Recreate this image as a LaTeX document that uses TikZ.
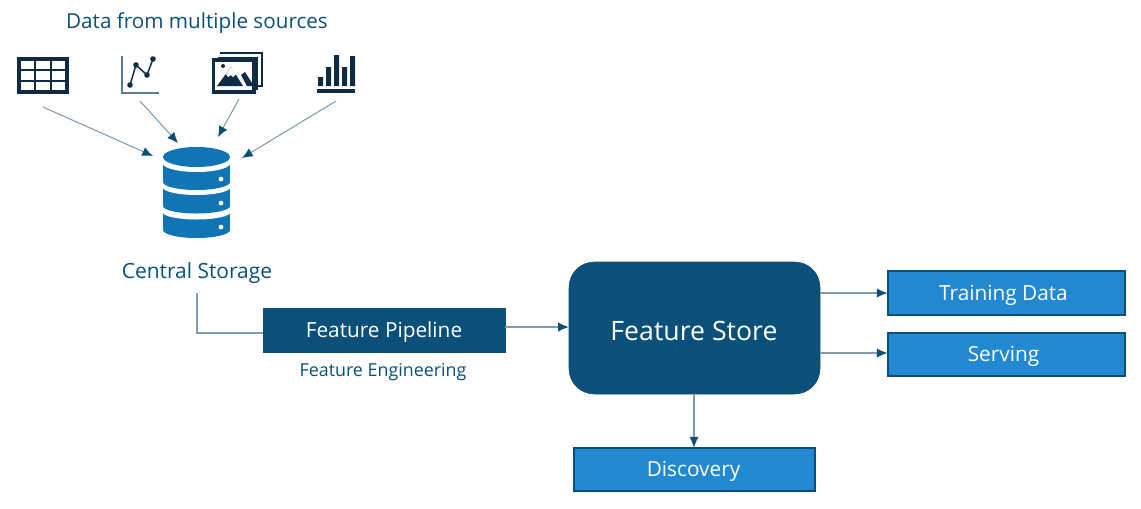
\documentclass[tikz,border=0pt]{standalone}
\usepackage{fontspec}
\setmainfont{Open Sans}
\usetikzlibrary{arrows.meta}
\definecolor{navy}{HTML}{0B5078}
\definecolor{ink}{HTML}{0F2B45}
\definecolor{mid}{HTML}{2288D2}
\definecolor{cyl}{HTML}{0F75B5}
\definecolor{wire}{HTML}{7F9DB2}
\tikzset{
 x=0.75pt,y=-0.75pt,
 flow/.style={draw=wire,line width=0.8pt,-{Latex[length=8pt,width=7pt,color=navy]}},
 plain/.style={draw=wire,line width=0.8pt},
 lightbox/.style={draw=navy,line width=0.8pt,fill=mid,inner sep=0},
 darkbox/.style={draw=navy,fill=navy,inner sep=0},
 boxtext/.style={text=white,inner sep=0,font=\fontsize{15.6}{18}\selectfont},
 caption/.style={text=navy,inner sep=0,font=\fontsize{13.4}{16}\selectfont},
}
\begin{document}
\begin{tikzpicture}
\useasboundingbox (0,0) rectangle (1141,508);
\fill[white] (0,0) rectangle (1141,508);
\node[caption,font=\fontsize{15.5}{18}\selectfont] (title) at (197,23) {Data from multiple sources};
% table icon
\draw[ink,line width=2.6pt] (19,59) rectangle (67,92);
\draw[ink,line width=2.1pt] (19,70) -- (67,70) (19,81) -- (67,81) (35,59) -- (35,92) (51,59) -- (51,92);
% line chart icon
\draw[wire!70!ink,line width=1pt] (122,56) -- (122,93) -- (159,93);
\draw[ink,line width=1.1pt] (130,85) -- (136,65) -- (147,75) -- (153,59);
\foreach \p in {(130,85),(136,65),(147,75),(153,59)} \fill[ink] \p circle[radius=2.8];
% images icon
\draw[ink,line width=1.7pt] (220,53) -- (262,53) -- (262,86) -- (258,86);
\draw[ink,line width=1.7pt] (218,58) -- (257,58) -- (257,90);
\draw[ink,line width=2.3pt,fill=white] (213.5,60) rectangle (254,92);
\fill[ink] (217,86) -- (231,67) -- (243,86) -- cycle;
\fill[ink] (241,75) -- (245,72) -- (252,83) -- (252,86) -- (247,86) -- cycle;
\fill[ink] (223,66) circle[radius=2];
\fill[white] (226,74) -- (231,67) -- (236,74) -- (233,77) -- (231,75) -- (228,77) -- cycle;
% bars icon
\fill[ink] (318,77) rectangle (323,86) (326,67) rectangle (331,86) (334,55) rectangle (339,86) (342,67) rectangle (347,86) (350,56) rectangle (355,86);
\fill[ink] (317,89) rectangle (355,93);
% cylinder, painted from the bottom band upwards
\fill[cyl] (163,212) rectangle (230,230);
\fill[cyl] (196.5,230) ellipse[x radius=33.5,y radius=8];
\fill[white] (196.5,212) ellipse[x radius=34,y radius=7.5];
\fill[cyl] (163,187) rectangle (230,206);
\fill[cyl] (196.5,206) ellipse[x radius=33.5,y radius=7.5];
\fill[white] (196.5,187) ellipse[x radius=34,y radius=8];
\fill[cyl] (163,163) rectangle (230,182);
\fill[cyl] (196.5,182) ellipse[x radius=33.5,y radius=8];
\fill[white] (196.5,163) ellipse[x radius=34,y radius=9];
\fill[cyl] (196.5,157) ellipse[x radius=33.5,y radius=10];
\fill[white] (221,179) circle[radius=2.4] (221,203) circle[radius=2.4] (221,227) circle[radius=2.4];
\coordinate (c1) at (43,107); \coordinate (c1e) at (153,156);
\coordinate (c2) at (140,101); \coordinate (c2e) at (178,143);
\coordinate (c3) at (239,99); \coordinate (c3e) at (218,137);
\coordinate (c4) at (336,101); \coordinate (c4e) at (242,158);
\draw[flow] (c1) -- (c1e);
\draw[flow] (c2) -- (c2e);
\draw[flow] (c3) -- (c3e);
\draw[flow] (c4) -- (c4e);
\node[caption,font=\fontsize{15.7}{18}\selectfont] (central) at (197,273.5) {Central Storage};
\node[darkbox,minimum width=242*0.75pt,minimum height=44*0.75pt] (pipe) at (384,330) {};
\node[boxtext] (pipet) at (384,332) {Feature Pipeline};
\node[caption] (eng) at (383,372.5) {Feature Engineering};
\node[draw=navy,fill=navy,rounded corners=19pt,inner sep=0,minimum width=251*0.75pt,minimum height=132*0.75pt] (fs) at (694.5,328) {};
\node[boxtext,font=\fontsize{20}{24}\selectfont] (fst) at (694,330.5) {Feature Store};
\node[lightbox,minimum width=237*0.75pt,minimum height=44*0.75pt] (train) at (1006.5,293) {};
\node[boxtext] (traint) at (1003.5,295) {Training Data};
\node[lightbox,minimum width=237*0.75pt,minimum height=43*0.75pt] (serve) at (1006.5,354.5) {};
\node[boxtext] (servet) at (1003.5,356) {Serving};
\node[lightbox,minimum width=241*0.75pt,minimum height=43*0.75pt] (disc) at (694.5,469.5) {};
\node[boxtext] (disct) at (693.5,471.5) {Discovery};
\coordinate (cs) at (197,293);
\draw[plain] (cs) -- (197,333) -- (pipe.west |- 197,333);
\draw[flow] (pipe.east |- 0,327) -- (fs.west |- 0,327);
\draw[flow] (fs.east |- 0,293) -- (train.west |- 0,293);
\draw[flow] (fs.east |- 0,353) -- (serve.west |- 0,353);
\draw[flow] (fs.south -| 694,0) -- (disc.north -| 694,0);
\end{tikzpicture}
\end{document}
